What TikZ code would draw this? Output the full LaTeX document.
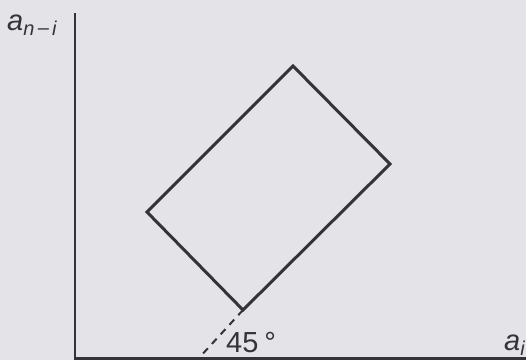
\documentclass[tikz,border=0pt]{standalone}
\usepackage{fontspec}
\setmainfont{Liberation Sans}
\definecolor{bg}{RGB}{228,228,232}
\definecolor{ink}{RGB}{52,52,56}
\begin{document}
\begin{tikzpicture}[x=1pt,y=1pt,
  axis/.style={draw=ink,line width=2.6pt},
  box/.style={draw=ink,line width=3pt,line join=miter},
  guide/.style={draw=ink,line width=2pt,dash pattern=on 7pt off 6pt},
  lbl/.style={text=ink,inner sep=0pt}]
\fill[bg] (0,0) rectangle (526,360);
\useasboundingbox (0,0) rectangle (526,360);
\coordinate (o) at (75,1.5);
\coordinate (ytop) at (75,347);
\coordinate (xend) at (526,1.5);
\draw[axis] (ytop) -- (o) -- (xend);
\coordinate (t) at (293,294);
\coordinate (r) at (390,196);
\coordinate (b) at (243,50);
\coordinate (l) at (147,148);
\draw[box] (t) -- (r) -- (b) -- (l) -- cycle;
\coordinate (d) at (198,1);
\draw[guide] (b) -- (d);
\node[lbl,anchor=base west] (yl) at (7,330) {\fontsize{29}{29}\selectfont\itshape a\raisebox{-5pt}{\fontsize{20}{20}\selectfont n\,\raisebox{1pt}{–}\,i}};
\node[lbl,anchor=base west] (deg) at (226,8) {\fontsize{29}{29}\selectfont 45\hspace{6pt}°};
\node[lbl,anchor=base west] (xl) at (504,10) {\fontsize{29}{29}\selectfont\itshape a\raisebox{-5pt}{\fontsize{20}{20}\selectfont i}};
\end{tikzpicture}
\end{document}
